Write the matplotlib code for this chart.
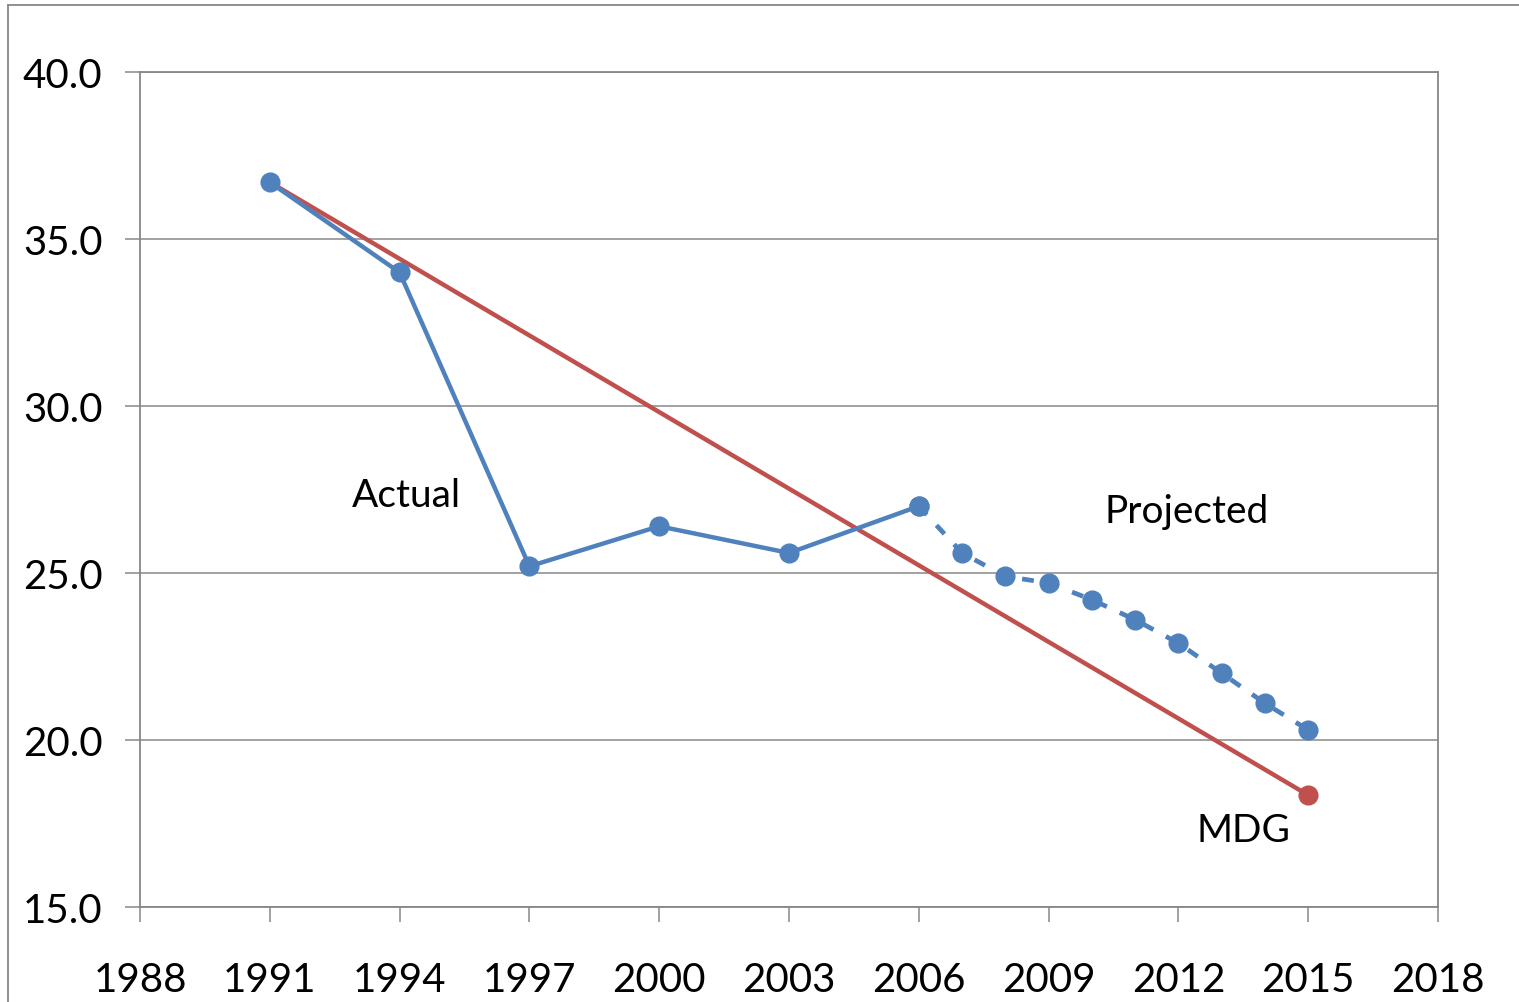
import matplotlib
matplotlib.use("Agg")
import matplotlib.pyplot as plt
from matplotlib.lines import Line2D

# Actual series
actual_years = [1991, 1994, 1997, 2000, 2003, 2006]
actual_vals = [36.7, 34.0, 25.2, 26.4, 25.6, 27.0]

# Projected series (starts at last actual point)
proj_years = [2006, 2007, 2008, 2009, 2010, 2011, 2012, 2013, 2014, 2015]
proj_vals = [27.0, 25.6, 24.9, 24.7, 24.2, 23.6, 22.9, 22.0, 21.1, 20.3]

# MDG target line
mdg_years = [1991, 2015]
mdg_vals = [36.7, 18.35]

x_ticks = [1988, 1991, 1994, 1997, 2000, 2003, 2006, 2009, 2012, 2015, 2018]
y_ticks = [15.0, 20.0, 25.0, 30.0, 35.0, 40.0]

BLUE = "#4F81BD"
RED = "#C0504D"
GRID = "#878787"

plt.rcParams["font.family"] = ["Lato", "DejaVu Sans"]

W, H = 1519, 1003
fig = plt.figure(figsize=(W / 100, H / 100), dpi=100)
ax = fig.add_axes([140 / W, 1 - 908 / H, (1438 - 140) / W, (908 - 73) / H])

ax.plot(mdg_years, mdg_vals, color=RED, linewidth=3.2, marker="o",
        markersize=13.5, markevery=[1], zorder=3)
ax.plot(proj_years, proj_vals, color=BLUE, linewidth=3.4,
        linestyle=(0, (2.5, 3)), marker="o", markersize=13.5, zorder=4)
ax.plot(actual_years, actual_vals, color=BLUE, linewidth=3.2, marker="o",
        markersize=13.5, zorder=5)

ax.set_xlim(1988, 2018)
ax.set_ylim(15, 40)
ax.set_xticks(x_ticks)
ax.set_xticklabels([str(t) for t in x_ticks])
ax.set_yticks(y_ticks)
ax.set_yticklabels([f"{v:.1f}" for v in y_ticks])

ax.grid(True, axis="y", color=GRID, linewidth=1.1)
ax.set_axisbelow(True)
for s in ax.spines.values():
    s.set_color(GRID)
    s.set_linewidth(1.3)

ax.tick_params(axis="both", direction="out", length=11, width=1.1,
               color=GRID, labelsize=29)
ax.tick_params(axis="y", pad=16)
ax.tick_params(axis="x", pad=28)

ax.text(1994.15, 27.34, "Actual", fontsize=28, ha="center", va="center")
ax.text(2012.2, 26.86, "Projected", fontsize=28, ha="center", va="center")
ax.text(2013.5, 17.3, "MDG", fontsize=28, ha="center", va="center")

# chart area border (left and top edges visible)
fig.add_artist(Line2D([8 / W, 8 / W], [1 - 6 / H, 0], color=GRID, linewidth=1.3))
fig.add_artist(Line2D([8 / W, 1.0], [1 - 6 / H, 1 - 6 / H], color=GRID, linewidth=1.3))

fig.savefig("out.png", dpi=100)
